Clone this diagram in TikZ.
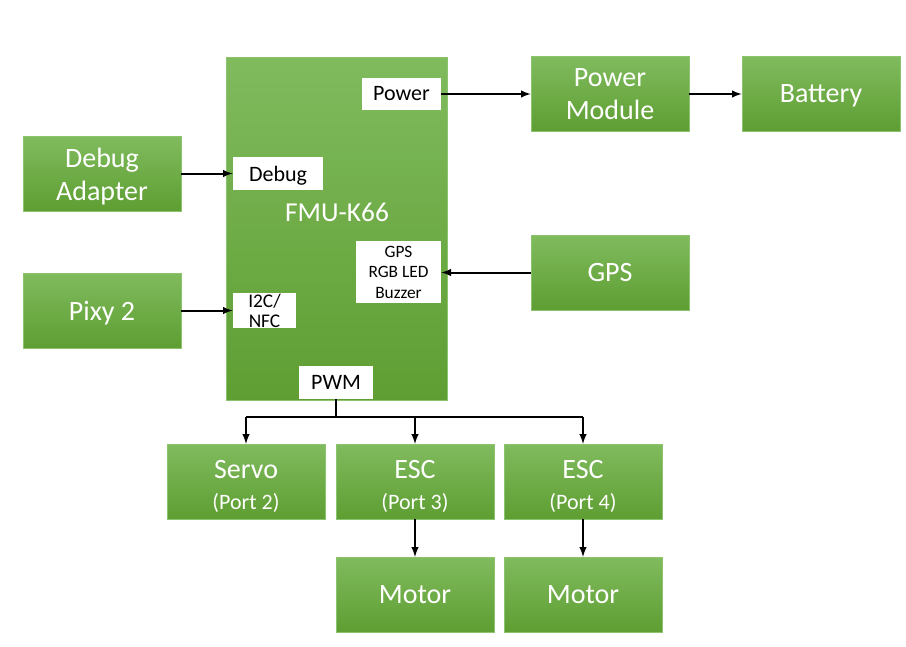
\documentclass[tikz,border=0pt]{standalone}
\usepackage{fontspec}
\setmainfont{Carlito}
\usetikzlibrary{arrows, positioning, calc}

\definecolor{boxtop}{RGB}{128,187,94}
\definecolor{boxbot}{RGB}{94,158,50}
\definecolor{boxedge}{RGB}{140,195,110}

\newcommand{\toppad}[1]{\rule{0pt}{#1}}
\newcommand{\portno}[1]{{\fontsize{16.5}{19}\selectfont(Port #1)}}

\tikzset{
  unit/.style={rectangle, top color=boxtop, bottom color=boxbot, draw=boxedge, line width=0.4pt,
    text=white, align=center, inner sep=0pt, minimum width=118.5pt, minimum height=56pt,
    font=\fontsize{21}{24.5}\selectfont},
  port/.style={rectangle, fill=white, text=black, align=center, inner sep=0pt,
    font=\fontsize{16.5}{19}\selectfont},
  nodesc/.style={text depth=0pt},
  link/.style={->,>=latex,line width=1.5pt}
}

\begin{document}
\begin{tikzpicture}[x=0.75pt,y=-0.75pt]
    \useasboundingbox (0,0) rectangle (906,646);
    % flight management unit
    \node[unit, minimum width=165.75pt, minimum height=257.25pt] (fmu) at (336.5,228.5) {};
    \node[text=white, font=\fontsize{20.5}{24}\selectfont] (fmutext) at (337,212) {FMU-K66};
    \node[port, minimum width=59.25pt, minimum height=24pt] (pwr) at (401.5,94) {Power};
    \node[port, nodesc, minimum width=67.5pt, minimum height=24.75pt] (dbg) at (278,173.5) {Debug};
    \node[port, minimum width=63.75pt, minimum height=46.5pt, font=\fontsize{13}{15.4}\selectfont] (gpsport) at (398.5,272) {GPS\\RGB LED\\Buzzer};
    \node[port, minimum width=47.25pt, minimum height=26.25pt, font=\fontsize{14.5}{15}\selectfont] (i2c) at (264.5,310.5) {I2C/\\NFC};
    \node[port, minimum width=55.5pt, minimum height=24.75pt] (pwm) at (336,382.5) {PWM};

    % outside units
    \node[unit] (adapter) at (102,173.5) {\toppad{19pt}Debug\\Adapter};
    \node[unit, nodesc] (pixy) at (102,310.5) {Pixy 2};
    \node[unit] (pm) at (610,94) {Power\\Module};
    \node[unit, nodesc] (bat) at (821,94) {Battery};
    \node[unit] (gps) at (610,272.5) {GPS};
    \node[unit] (servo) at (246,481.5) {\toppad{21pt}Servo\\[-1.5pt]\portno{2}};
    \node[unit] (escA) at (415,481.5) {\toppad{21pt}ESC\\[-1.5pt]\portno{3}};
    \node[unit] (escB) at (583,481.5) {\toppad{21pt}ESC\\[-1.5pt]\portno{4}};
    \node[unit] (motorA) at (415,594.5) {Motor};
    \node[unit] (motorB) at (583,594.5) {Motor};

    \draw[link] (pwr) -- (pm);
    \draw[link] (pm) -- (bat);
    \draw[link] (adapter) -- (dbg);
    \draw[link] (pixy.east) -- (pixy.east -| i2c.west);
    \draw[link] (gps.west) -- (gps.west -| gpsport.east);

    % pwm outputs
    \coordinate (split) at (336,417);
    \draw[line width=1.5pt] (pwm.south) -- (split);
    \draw[line width=1.5pt] (split -| servo) -- (split -| escB);
    \draw[link] (split -| servo) -- (servo);
    \draw[link] (split -| escA) -- (escA);
    \draw[link] (split -| escB) -- (escB);
    \draw[link] (escA) -- (motorA);
    \draw[link] (escB) -- (motorB);
\end{tikzpicture}
\end{document}
